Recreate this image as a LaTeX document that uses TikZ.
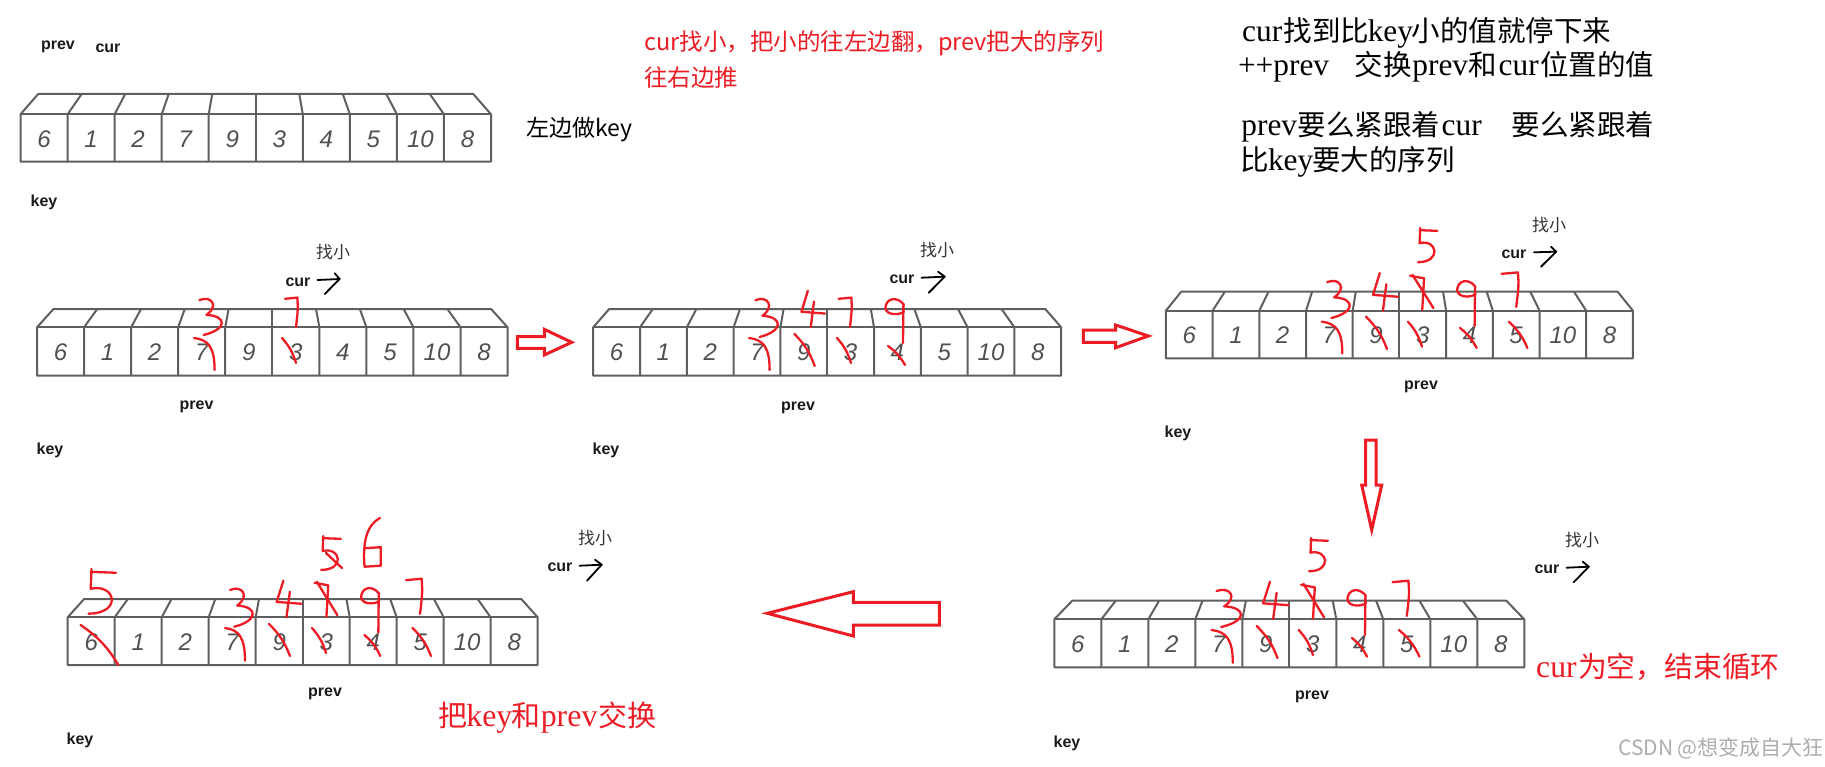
\documentclass[tikz,border=0pt]{standalone}
\usepackage{fontspec}
\setmainfont{Liberation Sans}
\newfontfamily\cjk{Noto Sans CJK SC}
\newfontfamily\lserif{Liberation Serif}[Scale=1.1]
\definecolor{hred}{RGB}{237,28,36}
\definecolor{boxgray}{RGB}{95,95,95}
\definecolor{numgray}{RGB}{80,80,80}
\newcommand\lat[2]{\makebox[#1em][c]{\lserif #2}}
\tikzset{
 boxline/.style={draw=boxgray, line width=2pt, line join=round},
 num/.style={font=\fontsize{24}{24}\selectfont\itshape, text=numgray, inner sep=0pt},
 lbl/.style={font=\fontsize{16}{16}\selectfont\bfseries, text=black!90, inner sep=0pt},
 zhsmall/.style={font=\cjk\fontsize{17}{17}\selectfont, text=black!80, inner sep=0pt},
 hand/.style={draw=hred, line width=2.3pt, line cap=round, line join=round},
 harrow/.style={draw=black, line width=1.8pt, line cap=round, line join=round},
 hollow/.style={draw=hred, line width=3pt, line join=miter},
 redtxt/.style={text=hred, inner sep=0pt, anchor=west},
 blktxt/.style={text=black, inner sep=0pt, anchor=west, font=\cjk\fontsize{28.5}{34}\selectfont},
}
% handwritten digits in a unit box (y down)
\newcommand\hdThree{\draw[hand] (0.05,0.08) .. controls (0.5,-0.05) and (0.75,0.25) .. (0.3,0.47) .. controls (1.05,0.5) and (1.05,0.85) .. (0.2,1);}
\newcommand\hdFour{\draw[hand] (0.3,0) -- (0.04,0.58) -- (1,0.63); \draw[hand] (0.55,0.3) -- (0.42,1);}
\newcommand\hdSeven{\draw[hand] (0,0.06) -- (0.95,0.02) .. controls (1,0.4) .. (0.85,1);}
\newcommand\hdSevenX{\draw[hand] (0,0.05) -- (0.6,0.12) -- (0.52,1); \draw[hand] (0.1,0.02) -- (1,0.95);}
\newcommand\hdNine{\draw[hand] (0.95,0.15) .. controls (0.6,-0.05) and (0.05,0) .. (0.02,0.22) .. controls (0.05,0.4) and (0.8,0.38) .. (0.95,0.3); \draw[hand] (0.92,0.15) -- (0.9,1);}
\newcommand\hdFive{\draw[hand] (0.15,0) -- (0.12,0.42); \draw[hand] (0.12,0.06) -- (0.95,0.08); \draw[hand] (0.12,0.42) .. controls (0.95,0.3) and (1.15,0.95) .. (0.05,0.95);}
\newcommand\hdSix{\draw[hand] (0.9,0) .. controls (0.2,0.15) and (0.0,0.5) .. (0.1,1) -- (0.95,0.98) -- (0.95,0.6) -- (0.1,0.62);}
\newcommand\hd[5]{\pgfmathsetmacro\hdw{#4-#2}\pgfmathsetmacro\hdh{#5-#3}%
 \begin{scope}[shift={(#2,#3)},x={(\hdw pt,0pt)},y={(0pt,-\hdh pt)}]\csname hd#1\endcsname\end{scope}}
\newcommand\strk[4]{\draw[hand] (#1,#2) to[bend left=12] (#3,#4);}
\newcommand\hstrk[4]{\draw[hand] (#1,#2) .. controls ({#1+0.7*(#3-#1)},{#2+0.05*(#4-#2)}) and ({#3},{#2+0.3*(#4-#2)}) .. (#3,#4);}
% array of 10 boxes
\newcommand\cellarray[7]{%
 \pgfmathsetmacro\caR{#2+10*#4}%
 \pgfmathsetmacro\caC{#2+5*#4}%
 \pgfmathsetmacro\caK{(10*#4-2*#7)/(10*#4)}%
 \pgfmathsetmacro\caB{#3+#5}%
 \pgfmathsetmacro\caU{#3-#6}%
 \fill[white] (#2,#3) rectangle (\caR,\caB);
 \draw[boxline] (#2,\caB) -- (#2,#3) -- (#2+#7,\caU) -- (\caR-#7,\caU) -- (\caR,#3) -- (\caR,\caB) -- cycle;
 \draw[boxline] (#2,#3) -- (\caR,#3);
 \foreach \i in {1,...,9}{%
   \pgfmathsetmacro\caXf{#2+\i*#4}%
   \pgfmathsetmacro\caXb{\caC+(\caXf-\caC)*\caK}%
   \draw[boxline] (\caXb,\caU) -- (\caXf,#3) -- (\caXf,\caB);
 }
 \foreach \v [count=\j from 0] in {6,1,2,7,9,3,4,5,10,8}{%
   \node[num] (#1n\j) at ({#2+(\j+0.5)*#4},{#3+#5/2+1}) {\v};
 }
}
\newcommand\curarrow[8]{\draw[harrow] (#1,#2) -- (#3,#4); \draw[harrow] (#5,#6) -- (#3,#4) -- (#7,#8);}
\begin{document}
\begin{tikzpicture}[x=1pt,y=-1pt]
\useasboundingbox (0,0) rectangle (1825,767);

% ---------- arrays ----------
\cellarray{a1}{20.5}{114.3}{47.05}{47.4}{20.3}{17.7}
\cellarray{a2}{37}{327.3}{47.06}{48.4}{18.3}{16.5}
\cellarray{a3}{593.2}{327.3}{46.8}{48.4}{18.3}{16}
\cellarray{a4}{1165.9}{310.7}{46.7}{47.6}{19}{15.3}
\cellarray{a5}{67.7}{617.3}{47}{47.7}{18.3}{16.4}
\cellarray{a6}{1054.3}{619.3}{47}{48}{18.6}{18}

% ---------- labels ----------
\node[lbl] (a1prev) at (58,47) {prev};
\node[lbl] (a1cur) at (108,48) {cur};
\node[lbl] (a1key) at (44,202) {key};
\node[anchor=west, inner sep=0pt, font=\cjk\fontsize{23}{23}\selectfont] (a1note) at (526.5,130) {左边做key};

\node[zhsmall] (a2zx) at (333,252) {找小};
\node[lbl] (a2cur) at (298,282) {cur};
\node[lbl] (a2prev) at (196.6,407) {prev};
\node[lbl] (a2key) at (50,450) {key};

\node[zhsmall] (a3zx) at (937,250) {找小};
\node[lbl] (a3cur) at (902,279) {cur};
\node[lbl] (a3prev) at (798,408) {prev};
\node[lbl] (a3key) at (606,450) {key};

\node[zhsmall] (a4zx) at (1549,225) {找小};
\node[lbl] (a4cur) at (1514,254) {cur};
\node[lbl] (a4prev) at (1421,387) {prev};
\node[lbl] (a4key) at (1178,433) {key};

\node[zhsmall] (a5zx) at (595,538) {找小};
\node[lbl] (a5cur) at (560,567) {cur};
\node[lbl] (a5prev) at (325,694) {prev};
\node[lbl] (a5key) at (80,740) {key};

\node[zhsmall] (a6zx) at (1582,540) {找小};
\node[lbl] (a6cur) at (1547,569) {cur};
\node[lbl] (a6prev) at (1312,697) {prev};
\node[lbl] (a6key) at (1067,743) {key};

% ---------- hand arrows after cur ----------
\curarrow{317.4}{280}{339.6}{279}{334.8}{273.3}{324.8}{294}
\curarrow{921.5}{277.7}{944.7}{276.7}{938}{271.7}{928.8}{292.7}
\curarrow{1534}{252.3}{1556.2}{251.7}{1551}{246.7}{1541}{266.7}
\curarrow{579.5}{565.7}{601.7}{564.7}{595}{559.7}{587}{580.7}
\curarrow{1566.5}{567.7}{1588.8}{566.7}{1582.7}{561.7}{1573.6}{582.3}

% ---------- hollow red arrows ----------
\draw[hollow] (517.3,336.7) -- (544.3,336.7) -- (544.3,329.3) -- (571.7,342.3) -- (544.3,355) -- (544.3,348.3) -- (517.3,348.3) -- cycle;
\draw[hollow] (1083.3,330) -- (1115.7,330) -- (1115.7,325) -- (1148.3,336) -- (1115.7,347.7) -- (1115.7,342.3) -- (1083.3,342.3) -- cycle;
\draw[hollow] (1365.7,440) -- (1376,440) -- (1376,485) -- (1381.7,485) -- (1371.7,530) -- (1361.7,485) -- (1365.7,485) -- cycle;
\draw[hollow] (939.3,602.3) -- (853.3,602.3) -- (853.3,591.7) -- (767.3,613.3) -- (853.3,636) -- (853.3,625) -- (939.3,625) -- cycle;

% ---------- handwritten marks: array 2 ----------
\hd{Three}{198}{297}{226}{335}
\hstrk{194}{338}{214.6}{370}
\hd{Seven}{285}{297}{298}{327}
\strk{282}{338}{296}{363}

% ---------- array 3 ----------
\hd{Three}{754}{297}{782}{337}
\hstrk{749}{338}{769.6}{370}
\hd{Four}{800.5}{290.7}{825}{327}
\strk{794.5}{334}{814.7}{366}
\hd{Seven}{838.6}{297}{852}{327}
\strk{837}{338}{851}{363}
\hd{Nine}{885}{298}{905}{343}
\strk{888}{346}{905}{365}

% ---------- array 4 ----------
\hd{Five}{1417}{228}{1438.5}{264}
\hd{Three}{1325.7}{279}{1354}{318}
\hstrk{1321.8}{321.7}{1342.3}{353.3}
\hd{Four}{1372}{273}{1398}{310.7}
\strk{1366}{316.7}{1387}{349}
\hd{SevenX}{1410}{274}{1433.5}{310}
\strk{1408}{321.7}{1422}{346.7}
\hd{Nine}{1456.7}{280}{1476.6}{326}
\strk{1460}{328}{1476.6}{348}
\hd{Seven}{1501.5}{271.7}{1518.8}{307}
\strk{1508.8}{321.7}{1527.4}{348}

% ---------- array 5 ----------
\hd{Five}{87}{569}{117.6}{616}
\strk{80.6}{625}{118.4}{665}
\hd{Three}{228.6}{586.7}{257}{626.7}
\hstrk{225}{628}{245}{660.7}
\hd{Four}{275.6}{580.7}{301.5}{617.3}
\strk{269}{624}{290}{656}
\hd{SevenX}{314.5}{581}{337.4}{617}
\strk{312}{628}{326}{653}
\hd{Five}{320}{536}{342}{571.7}
\draw[hand] (326,553) -- (342,568);
\hd{Six}{362.6}{518}{381.8}{566.7}
\hd{Nine}{360.7}{587}{380.3}{632.7}
\strk{364.4}{635}{380.3}{656}
\hd{Seven}{406}{578}{422.5}{614}
\strk{412.5}{628}{431}{656}

% ---------- array 6 ----------
\hd{Five}{1308}{538}{1329}{573}
\hd{Three}{1215}{588}{1245.5}{627}
\hstrk{1211.5}{630}{1232.8}{662.7}
\hd{Four}{1262}{581.7}{1288.6}{619}
\strk{1256.7}{626}{1277.5}{658}
\hd{SevenX}{1301}{583}{1324}{619}
\strk{1298.8}{630}{1313}{655}
\hd{Nine}{1347}{589}{1367}{635}
\strk{1352}{638}{1367}{656.7}
\hd{Seven}{1392.6}{580}{1409.3}{616}
\strk{1399}{630}{1419.5}{656.7}

% ---------- texts ----------
\node[redtxt, font=\cjk\fontsize{23.5}{24}\selectfont] (t1) at (644,43) {cur找小，把小的往左边翻，prev把大的序列};
\node[redtxt, font=\cjk\fontsize{23.5}{24}\selectfont] (t2) at (644,78) {往右边推};

\node[blktxt] (n1) at (1240.6,33) {\lat{1.5}{cur}找到比\lat{1.5}{key}小的值就停下来};
\node[blktxt] (n2) at (1240.6,67) {\lat{3}{++prev}　交换\lat{2}{prev}和\lat{1.5}{cur}位置的值};
\node[blktxt] (n3) at (1240.6,127) {\lat{2}{prev}要么紧跟着\lat{1.5}{cur}　要么紧跟着};
\node[blktxt] (n4) at (1240.6,162) {比\lat{1.5}{key}要大的序列};

\node[redtxt, font=\cjk\fontsize{29}{29}\selectfont] (t3) at (438.4,718) {把\lat{1.5}{key}和\lat{2}{prev}交换};
\node[redtxt, font=\cjk\fontsize{28.8}{29}\selectfont] (t4) at (1534.6,666.7) {\lat{1.5}{cur}为空，结束循环};

\node[anchor=west, inner sep=0pt, text=black!32, font=\cjk\fontsize{21}{21}\selectfont] (wm) at (1618,748) {CSDN @想变成自大狂};
\end{tikzpicture}
\end{document}
